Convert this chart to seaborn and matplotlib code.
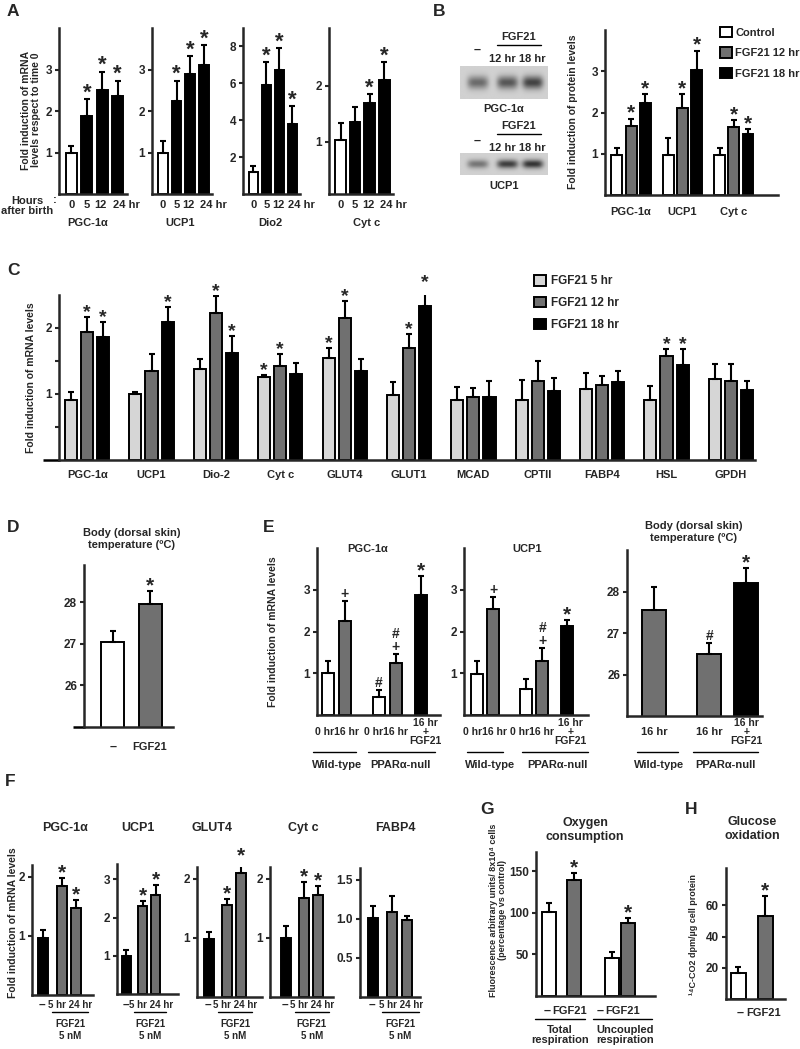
import numpy as np
import pandas as pd
import matplotlib
matplotlib.use('Agg')
import matplotlib.pyplot as plt
from matplotlib.patches import Patch
from matplotlib.lines import Line2D
from matplotlib.transforms import blended_transform_factory
import seaborn as sns

sns.set_style('ticks')
plt.rcParams['font.family'] = ['Liberation Sans', 'DejaVu Sans']
plt.rcParams['font.weight'] = 'bold'
plt.rcParams['axes.linewidth'] = 1.8

# ---------------- data ----------------
# A: mRNA after birth
a_genes = ['PGC-1α', 'UCP1', 'Dio2', 'Cyt c']
a_hours = ['0', '5', '12', '24 hr']
a_mean = [[0.98, 1.88, 2.51, 2.37], [1.00, 2.24, 2.88, 3.10],
          [1.19, 5.90, 6.70, 3.78], [1.03, 1.35, 1.70, 2.10]]
a_sem = [[0.17, 0.41, 0.44, 0.36], [0.27, 0.49, 0.44, 0.49],
         [0.31, 1.25, 1.20, 0.97], [0.30, 0.27, 0.15, 0.32]]
a_star = [[0, 1, 1, 1], [0, 1, 1, 1], [0, 1, 1, 1], [0, 0, 1, 1]]
a_ylim = [(0, 4.0), (0, 4.0), (0, 9.0), (0.07, 3.03)]
a_yticks = [[1, 2, 3], [1, 2, 3], [2, 4, 6, 8], [1, 2]]

# B: protein levels
b_genes = ['PGC-1α', 'UCP1', 'Cyt c']
b_groups = ['Control', 'FGF21 12 hr', 'FGF21 18 hr']
b_mean = [[0.96, 1.67, 2.23], [0.98, 2.12, 3.03], [0.97, 1.66, 1.47]]
b_sem = [[0.17, 0.18, 0.21], [0.41, 0.33, 0.47], [0.16, 0.16, 0.13]]
b_star = [[0, 1, 1], [0, 1, 1], [0, 1, 1]]
blot_pgc = [0.40, 0.48, 0.56]
blot_ucp1 = [0.36, 0.58, 0.62]

# C: mRNA after FGF21
c_genes = ['PGC-1α', 'UCP1', 'Dio-2', 'Cyt c', 'GLUT4', 'GLUT1',
           'MCAD', 'CPTII', 'FABP4', 'HSL', 'GPDH']
c_groups = ['FGF21 5 hr', 'FGF21 12 hr', 'FGF21 18 hr']
c_mean = [[0.91, 1.94, 1.86], [1.00, 1.35, 2.09], [1.38, 2.22, 1.62],
          [1.26, 1.42, 1.30], [1.55, 2.15, 1.35], [0.98, 1.70, 2.33],
          [0.91, 0.95, 0.96], [0.91, 1.20, 1.05], [1.07, 1.13, 1.18],
          [0.91, 1.58, 1.44], [1.22, 1.19, 1.06]]
c_sem = [[0.12, 0.23, 0.23], [0.03, 0.25, 0.23], [0.15, 0.26, 0.26],
         [0.03, 0.18, 0.17], [0.14, 0.26, 0.18], [0.20, 0.21, 0.29],
         [0.20, 0.14, 0.24], [0.30, 0.30, 0.19], [0.25, 0.14, 0.17],
         [0.21, 0.10, 0.24], [0.24, 0.27, 0.14]]
c_star = [[0, 1, 1], [0, 0, 1], [0, 1, 1], [1, 1, 0], [1, 1, 0], [0, 1, 1],
          [0, 0, 0], [0, 0, 0], [0, 0, 0], [0, 1, 1], [0, 0, 0]]

# D: body temperature
d_groups = ['–', 'FGF21']
d_mean = [27.04, 27.95]
d_sem = [0.26, 0.32]

# E: wild-type vs PPARalpha-null
e_groups = ['WT 0 hr', 'WT 16 hr', 'null 0 hr', 'null 16 hr', 'null 16 hr + FGF21']
e_pgc_mean = [1.00, 2.24, 0.43, 1.25, 2.87]
e_pgc_sem = [0.30, 0.48, 0.17, 0.20, 0.45]
e_pgc_marks = ['', '+', '#', '#\n+', '*']
e_ucp_mean = [0.99, 2.55, 0.63, 1.30, 2.12]
e_ucp_sem = [0.31, 0.27, 0.24, 0.30, 0.15]
e_ucp_marks = ['', '+', '', '#\n+', '*']
e_temp_groups = ['WT 16 hr', 'null 16 hr', 'null 16 hr + FGF21']
e_temp_mean = [27.56, 26.50, 28.20]
e_temp_sem = [0.54, 0.25, 0.37]
e_temp_marks = ['', '#', '*']

# F: cultured adipocytes, FGF21 5 nM
f_genes = ['PGC-1α', 'UCP1', 'GLUT4', 'Cyt c', 'FABP4']
f_groups = ['–', '5 hr', '24 hr']
f_mean = [[0.97, 1.85, 1.47], [1.00, 2.29, 2.60], [0.98, 1.56, 2.10],
          [1.00, 1.68, 1.73], [1.01, 1.09, 0.98]]
f_sem = [[0.13, 0.13, 0.14], [0.16, 0.13, 0.24], [0.12, 0.10, 0.19],
         [0.20, 0.27, 0.15], [0.15, 0.20, 0.06]]
f_star = [[0, 1, 1], [0, 1, 1], [0, 1, 1], [0, 1, 1], [0, 0, 0]]
f_ylim = [2.2, 3.4, 2.2, 2.2, 1.65]
f_yticks = [[1, 2], [1, 2, 3], [1, 2], [1, 2], [0.5, 1.0, 1.5]]
f_ytlabels = [['1', '2'], ['1', '2', '3'], ['1', '2'], ['1', '2'], ['0.5', '1.0', '1.5']]

# G: oxygen consumption
g_groups = ['–', 'FGF21', '–', 'FGF21']
g_mean = [101, 139.8, 45.7, 88]
g_sem = [11, 8, 7, 6]
g_star = [0, 1, 0, 1]

# H: glucose oxidation
h_groups = ['–', 'FGF21']
h_mean = [16.7, 53.5]
h_sem = [3.9, 12.5]

# ---------------- styling ----------------
WHITE, LIGHT, GRAY, BLACK = '#ffffff', '#d6d6d6', '#707070', '#000000'
W, H = 800, 1049
fig = plt.figure(figsize=(W / 100, H / 100), dpi=100)


def axes_px(l, t, r, b):
    return fig.add_axes([l / W, 1 - b / H, (r - l) / W, (b - t) / H])


def ft(x, y, s, fs=8, ha='center', va='center', **kw):
    fig.text(x / W, 1 - y / H, s, fontsize=fs, ha=ha, va=va, fontweight='bold', **kw)


def hline(x0, x1, y, lw=1.0):
    fig.add_artist(Line2D([x0 / W, x1 / W], [1 - y / H] * 2, color='black', lw=lw))


def under(ax, x, y, s, fs=8, ha='center', **kw):
    tr = blended_transform_factory(ax.transData, fig.transFigure)
    ax.text(x, 1 - y / H, s, transform=tr, fontsize=fs, ha=ha, va='center',
            fontweight='bold', **kw)


def uline(ax, x0, x1, y):
    tr = blended_transform_factory(ax.transData, fig.transFigure)
    ax.plot([x0, x1], [1 - y / H] * 2, transform=tr, color='black', lw=1.0, clip_on=False)


def bars(ax, pos, mean, sem, groups, palette, bw, marks=None, sfs=14):
    pos = np.asarray(pos, float)
    mean = np.asarray(mean, float)
    sem = np.asarray(sem, float)
    df = pd.DataFrame({'x': pos, 'y': mean, 'g': groups})
    step = np.min(np.diff(np.unique(pos))) if len(pos) > 1 else 1.0
    sns.barplot(data=df, x='x', y='y', hue='g', palette=palette, native_scale=True,
                width=bw / step, errorbar=None, edgecolor='black', linewidth=1.4,
                saturation=1, legend=False, ax=ax)
    ax.errorbar(pos, mean, yerr=[np.zeros_like(sem), sem], fmt='none', ecolor='black',
                elinewidth=1.5, capsize=2.2, capthick=1.5)
    if marks is not None:
        for x, top, m in zip(pos, mean + sem, marks):
            if not m:
                continue
            if m == '*':
                ax.annotate('*', (x, top), xytext=(0, -0.2 * sfs), textcoords='offset points',
                            ha='center', va='bottom', fontsize=sfs, fontweight='bold',
                            annotation_clip=False)
            else:
                ax.annotate(m, (x, top), xytext=(0, 0), textcoords='offset points',
                            ha='center', va='bottom', fontsize=10, fontweight='bold',
                            linespacing=0.95, annotation_clip=False)


def style(ax, ylim, yticks, xlim, ytl=None, extend=0.0):
    ax.set_ylim(*ylim)
    ax.set_yticks(yticks)
    if ytl is not None:
        ax.set_yticklabels(ytl)
    ax.set_xlim(*xlim)
    ax.set_xticks([])
    ax.set_xlabel('')
    ax.set_ylabel('')
    sns.despine(ax=ax)
    ax.tick_params(axis='y', length=3, width=1.5, labelsize=8.5, pad=2)
    if extend:
        ax.plot([-extend, 0], [0, 0], transform=ax.transAxes, color='black', lw=1.8,
                clip_on=False, solid_capstyle='butt')


def mark_list(stars):
    return ['*' if s else '' for s in stars]


# ---------------- A ----------------
ft(7, 11, 'A', fs=12.5, ha='left')
a_box = [(59, 127), (152, 212), (243, 300), (329, 393)]
a_label_x = [88, 180, 270, 367]
a_pal = dict(zip(a_hours, [WHITE, BLACK, BLACK, BLACK]))
for i in range(4):
    ax = axes_px(a_box[i][0], 28, a_box[i][1], 194)
    bars(ax, [0, 1, 2, 3], a_mean[i], a_sem[i], a_hours, a_pal, 0.72,
         mark_list(a_star[i]), sfs=16)
    style(ax, a_ylim[i], a_yticks[i], (-0.8, 3.6))
    for k, h in enumerate(a_hours):
        if h == '24 hr':
            under(ax, k - 0.3, 205, h, ha='left')
        else:
            under(ax, k - 0.1 * (k == 2), 205, h)
    ft(a_label_x[i], 223, a_genes[i])
ft(27, 206, 'Hours\nafter birth', linespacing=1.0)
ft(55, 200, ':')
ft(31, 110, 'Fold induction of mRNA\nlevels respect to time 0', rotation=90, fs=7.5,
   linespacing=1.1)

# ---------------- B ----------------
ft(433, 11, 'B', fs=12.5, ha='left')


def blot(t, b, levels):
    ax = axes_px(460, t, 547, b)
    yy, xx = np.mgrid[0:1:40j, 0:1:100j]
    img = np.full_like(xx, 0.82)
    for cx, lev in zip([0.2, 0.54, 0.83], levels):
        img -= lev * np.exp(-((xx - cx) / 0.12) ** 4 - ((yy - 0.5) / 0.2) ** 2)
    ax.imshow(img, cmap='gray', vmin=0, vmax=1, aspect='auto', interpolation='bilinear')
    ax.axis('off')


blot(66, 99, blot_pgc)
blot(153, 175, blot_ucp1)
for y0 in [37, 126]:
    ft(519, y0, 'FGF21')
    hline(497, 541, y0 + 8)
    ft(517, y0 + 22, '12 hr 18 hr')
ft(477, 50, '–', fs=9)
ft(477, 141, '–', fs=9)
ft(504, 109, 'PGC-1α')
ft(504, 186, 'UCP1')

axb = axes_px(605, 30, 778, 195)
b_pal = dict(zip(b_groups, [WHITE, GRAY, BLACK]))
b_pos, b_m, b_s, b_g, b_mk = [], [], [], [], []
for g in range(3):
    for k in range(3):
        b_pos.append(g * 3.6 + k)
        b_m.append(b_mean[g][k])
        b_s.append(b_sem[g][k])
        b_g.append(b_groups[k])
        b_mk.append('*' if b_star[g][k] else '')
bars(axb, b_pos, b_m, b_s, b_g, b_pal, 0.76, b_mk, sfs=15)
style(axb, (0, 4.0), [1, 2, 3], (-0.83, 11.3))
for g, name in enumerate(b_genes):
    under(axb, g * 3.6 + 1, 212, name)
axb.legend(handles=[Patch(facecolor=b_pal[k], edgecolor='black', lw=1.4, label=k) for k in b_groups],
           loc='upper left', bbox_to_anchor=(720 / W, 1 - 27 / H), bbox_transform=fig.transFigure,
           frameon=False, prop={'size': 8, 'weight': 'bold'}, handlelength=1.05, handleheight=1.05,
           handletextpad=0.3, labelspacing=0.85, borderaxespad=0, borderpad=0)
ft(573, 112, 'Fold induction of protein levels', rotation=90, fs=7.5)

# ---------------- C ----------------
ft(7, 270, 'C', fs=12.5, ha='left')
axc = axes_px(59, 295, 755, 460)
c_pal = dict(zip(c_groups, [LIGHT, GRAY, BLACK]))
c_pos, c_m, c_s, c_g, c_mk = [], [], [], [], []
for g in range(len(c_genes)):
    for k in range(3):
        c_pos.append(4 * g + k)
        c_m.append(c_mean[g][k])
        c_s.append(c_sem[g][k])
        c_g.append(c_groups[k])
        c_mk.append('*' if c_star[g][k] else '')
bars(axc, c_pos, c_m, c_s, c_g, c_pal, 0.75, c_mk, sfs=14)
style(axc, (0, 2.5), [0.5, 1, 1.5, 2], (-0.75, 42.5), ytl=['', '1', '', '2'], extend=0.023)
for g, name in enumerate(c_genes):
    under(axc, 4 * g + 1, 475, name)
axc.legend(handles=[Patch(facecolor=c_pal[k], edgecolor='black', lw=1.4, label=k) for k in c_groups],
           loc='upper left', bbox_to_anchor=(534 / W, 1 - 275 / H), bbox_transform=fig.transFigure,
           frameon=False, prop={'size': 8.5, 'weight': 'bold'}, handlelength=1.0, handleheight=1.0,
           handletextpad=0.4, labelspacing=0.8, borderaxespad=0, borderpad=0)
ft(31, 378, 'Fold induction of mRNA levels', rotation=90, fs=7.5)

# ---------------- D ----------------
ft(7, 527, 'D', fs=12.5, ha='left')
axd = axes_px(84, 565, 173, 727)
bars(axd, [0, 1], d_mean, d_sem, d_groups, dict(zip(d_groups, [WHITE, GRAY])), 0.62,
     ['', '*'], sfs=15)
style(axd, (25, 28.9), [26, 27, 28], (-0.78, 1.62), extend=0.124)
ft(132, 539, 'Body (dorsal skin)\ntemperature (ºC)', linespacing=1.3)
ft(113, 747, '–', fs=9)
ft(150, 747, 'FGF21')

# ---------------- E ----------------
ft(263, 528, 'E', fs=12.5, ha='left')
e_pos = [0, 1, 3, 4, 5.5]
e_pal = dict(zip(e_groups, [WHITE, GRAY, WHITE, GRAY, BLACK]))
for (l, r, xl), mean, sem, mk, title, tx, wt, nl in [
        ((317, 440, (-0.65, 6.6)), e_pgc_mean, e_pgc_sem, e_pgc_marks, 'PGC-1α', 368,
         (313, 356, 337), (368, 435, 400)),
        ((464, 588, (-0.79, 6.8)), e_ucp_mean, e_ucp_sem, e_ucp_marks, 'UCP1', 527,
         (467, 503, 490), (522, 588, 557))]:
    ax = axes_px(l, 548, r, 715)
    bars(ax, e_pos, mean, sem, e_groups, e_pal, 0.72, mk, sfs=15)
    style(ax, (0, 4.0), [1, 2, 3], xl)
    ft(tx, 549, title)
    under(ax, 0.5, 732, '0 hr16 hr', fs=7.5)
    under(ax, 3.4, 732, '0 hr16 hr', fs=7.5)
    under(ax, 5.75, 732, '16 hr\n+\nFGF21', fs=7.5, linespacing=0.85)
    hline(wt[0], wt[1], 752)
    hline(nl[0], nl[1], 752)
    ft(wt[2], 765, 'Wild-type')
    ft(nl[2], 765, 'PPARα-null')
ft(273, 632, 'Fold induction of mRNA levels', rotation=90, fs=7.5)

axe3 = axes_px(627, 550, 762, 716)
e3_pos = [0, 1.5, 2.5]
bars(axe3, e3_pos, e_temp_mean, e_temp_sem, e_temp_groups,
     dict(zip(e_temp_groups, [GRAY, GRAY, BLACK])), 0.65, e_temp_marks, sfs=15)
style(axe3, (25, 29), [26, 27, 28], (-0.73, 2.92))
ft(694, 532, 'Body (dorsal skin)\ntemperature (ºC)', linespacing=1.3)
under(axe3, 0, 732, '16 hr')
under(axe3, 1.5, 732, '16 hr')
under(axe3, 2.5, 732, '16 hr\n+\nFGF21', fs=7.5, linespacing=0.85)
hline(637, 678, 752)
hline(693, 758, 752)
ft(659, 765, 'Wild-type')
ft(725, 765, 'PPARα-null')

# ---------------- F ----------------
ft(5, 782, 'F', fs=12.5, ha='left')
f_box = [(32, 93, 865, 995, (-0.66, 3.0)), (117, 178, 864, 994, (-0.62, 3.5)),
         (197, 262, 867, 997, (-0.75, 3.3)), (270, 333, 867, 997, (-1.0, 2.94)),
         (360, 420, 868, 997, (-0.76, 2.76))]
f_title_x = [65, 138, 212, 303, 395]
f_pos = [0, 1.12, 2]
f_pal = dict(zip(f_groups, [BLACK, GRAY, GRAY]))
for i in range(5):
    l, r, t, b, xl = f_box[i]
    ax = axes_px(l, t, r, b)
    bars(ax, f_pos, f_mean[i], f_sem[i], f_groups, f_pal, 0.6, mark_list(f_star[i]), sfs=15)
    style(ax, (0, f_ylim[i]), f_yticks[i], xl, ytl=f_ytlabels[i])
    ft(f_title_x[i], 828, f_genes[i], fs=9)
    under(ax, -0.05, 1005, '–', fs=8.5)
    under(ax, 1.65, 1005, '5 hr 24 hr', fs=7)
    uline(ax, 0.55, 2.7, 1012)
    under(ax, 1.62, 1030, 'FGF21\n5 nM', fs=7, linespacing=1.2)
ft(13, 923, 'Fold induction of mRNA levels', rotation=90, fs=7.5)

# ---------------- G ----------------
ft(480, 810, 'G', fs=12.5, ha='left')
axg = axes_px(536, 852, 655, 996)
bars(axg, [0, 1.65, 4.2, 5.25], g_mean, g_sem, g_groups, {'–': WHITE, 'FGF21': GRAY},
     0.93, mark_list(g_star), sfs=15)
style(axg, (0, 173), [50, 100, 150], (-0.87, 7.07))
ft(585, 830, 'Oxygen\nconsumption', fs=9, linespacing=1.15)
ft(547, 1011, '–', fs=9)
ft(570, 1011, 'FGF21', fs=8)
ft(600, 1011, '–', fs=9)
ft(623, 1011, 'FGF21', fs=8)
hline(535, 585, 1019)
hline(593, 652, 1019)
ft(560, 1035, 'Total\nrespiration', fs=8, linespacing=1.1)
ft(625, 1035, 'Uncoupled\nrespiration', fs=8, linespacing=1.1)
ft(498, 910, 'Fluorescence arbitrary units/ 8x10⁴ cells\n(percentage vs control)',
   rotation=90, fs=6.5, linespacing=1.1)

# ---------------- H ----------------
ft(685, 810, 'H', fs=12.5, ha='left')
axh = axes_px(726, 868, 785, 999)
bars(axh, [0, 1.8], h_mean, h_sem, h_groups, {'–': WHITE, 'FGF21': GRAY}, 1.0,
     ['', '*'], sfs=15)
style(axh, (0, 84), [20, 40, 60], (-0.8, 3.1))
ft(752, 829, 'Glucose\noxidation', fs=9, linespacing=1.15)
ft(740, 1013, '–', fs=9)
ft(764, 1013, 'FGF21', fs=8)
ft(694, 935, '¹⁴C-CO2 dpm/µg cell protein', rotation=90, fs=6.5)

fig.savefig('out.png', dpi=100, facecolor='white')
